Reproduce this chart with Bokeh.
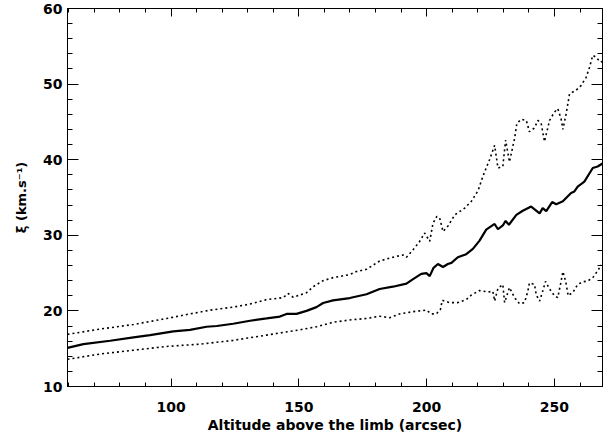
from bokeh.plotting import figure
from bokeh.models import LinearAxis, SingleIntervalTicker, Range1d, CustomLabelingPolicy
from bokeh.embed import file_html
from bokeh.resources import INLINE

# ---- data ----
mid_x = [59.5, 65.7, 76.2, 85.3, 91.8, 100.9, 107.4, 113.9, 117.9, 124.3, 130.9, 137.4,
         142.6, 145.2, 149.1, 153.0, 156.9, 159.5, 163.4, 169.9, 176.5, 181.6, 186.8,
         192.1, 194.7, 197.9, 199.9, 201.2, 202.7, 204.4, 206.4, 208.3, 209.7, 212.2,
         215.5, 218.1, 220.7, 223.3, 226.6, 227.9, 229.8, 230.9, 232.2, 235.1, 237.6,
         240.9, 244.2, 245.4, 246.8, 249.1, 250.7, 253.3, 256.5, 257.8, 259.1, 261.7,
         265.0, 266.9, 268.8]
mid_y = [15.1, 15.6, 16.05, 16.5, 16.8, 17.3, 17.5, 17.9, 18.0, 18.3, 18.7, 19.0,
         19.25, 19.6, 19.6, 20.0, 20.5, 21.05, 21.4, 21.7, 22.2, 22.9, 23.2,
         23.6, 24.2, 24.9, 25.0, 24.6, 25.7, 26.2, 25.8, 26.2, 26.35, 27.1,
         27.5, 28.2, 29.3, 30.75, 31.5, 30.8, 31.3, 31.9, 31.4, 32.7, 33.25,
         33.8, 32.9, 33.6, 33.2, 34.4, 34.1, 34.5, 35.6, 35.8, 36.45, 37.1,
         38.9, 39.1, 39.5]

up_x = [59.5, 72.3, 85.3, 98.3, 107.4, 115.3, 124.3, 130.9, 137.4, 143.9, 145.8, 147.8,
        153.0, 155.6, 159.5, 163.4, 169.9, 172.5, 176.5, 181.6, 186.8, 190.8, 192.1,
        194.7, 197.3, 199.2, 201.2, 202.5, 204.0, 205.1, 206.4, 208.3, 211.0, 214.9,
        217.5, 220.1, 222.0, 224.6, 226.6, 227.9, 229.8, 230.9, 232.4, 234.4, 235.3,
        237.0, 239.0, 240.2, 242.2, 243.5, 244.8, 246.1, 248.1, 250.0, 251.3, 252.6,
        253.3, 254.6, 255.9, 258.5, 260.4, 262.4, 263.7, 265.0, 266.3, 267.9, 268.8]
up_y = [16.9, 17.6, 18.2, 19.0, 19.6, 20.1, 20.5, 20.9, 21.5, 21.75, 22.3, 21.8,
        22.4, 23.2, 24.0, 24.4, 24.8, 25.2, 25.5, 26.6, 27.1, 27.4, 27.1,
        28.1, 29.2, 30.3, 29.2, 31.6, 32.5, 32.3, 30.5, 31.2, 32.7, 33.6,
        34.5, 35.9, 37.8, 40.0, 41.9, 38.9, 39.1, 42.6, 39.7, 42.8, 44.8,
        45.35, 45.2, 43.7, 44.2, 45.2, 44.8, 42.4, 45.2, 46.3, 46.75, 45.4,
        44.0, 46.1, 48.7, 49.2, 49.8, 50.9, 52.2, 53.8, 53.55, 52.9, 53.0]

lo_x = [59.5, 72.3, 85.3, 98.3, 111.3, 124.3, 137.4, 150.4, 156.9, 163.4, 169.9, 176.5,
        181.6, 185.5, 189.4, 194.7, 199.9, 201.8, 203.8, 205.4, 206.1, 209.0, 212.2,
        215.5, 217.5, 220.7, 224.0, 225.9, 226.6, 227.9, 229.8, 230.5, 232.4, 234.4,
        236.3, 238.3, 239.6, 240.2, 242.2, 242.9, 244.2, 245.4, 246.5, 248.1, 250.0,
        251.3, 252.6, 253.3, 254.4, 255.4, 257.3, 259.1, 261.1, 263.0, 265.0, 266.9,
        268.3]
lo_y = [13.6, 14.3, 14.8, 15.3, 15.6, 16.1, 16.8, 17.5, 17.9, 18.5, 18.8, 19.0,
        19.3, 19.1, 19.6, 19.9, 20.1, 19.6, 19.6, 20.2, 21.4, 21.1, 21.1,
        21.5, 22.1, 22.7, 22.5, 22.6, 21.3, 23.0, 23.5, 21.1, 23.1, 21.75,
        20.95, 21.1, 22.6, 23.7, 23.5, 22.1, 21.3, 22.6, 23.9, 22.9, 22.0,
        21.75, 23.9, 25.2, 23.9, 22.0, 22.5, 23.5, 23.85, 23.95, 24.4, 25.3,
        26.1]

x_major = 50
x_minor_n = 5
y_major = 10
y_minor_n = 5
x_lo, x_hi = 59.5, 268.8
y_lo, y_hi = 10, 60

FONT = "DejaVu Sans"

p = figure(width=614, height=437, output_backend="svg", toolbar_location=None,
           x_range=Range1d(x_lo, x_hi), y_range=Range1d(y_lo, y_hi),
           min_border_left=67, min_border_right=12, min_border_top=8, min_border_bottom=51,
           x_axis_location=None, y_axis_location=None)
p.grid.visible = False
p.outline_line_color = "black"
p.outline_line_width = 1
p.background_fill_color = "white"
p.border_fill_color = "white"

hide_all = CustomLabelingPolicy(code="""
    const all = [...indices]
    for (const i of all) indices.unset(i)
    return indices
""")


def style(ax, labels, major_len, minor_len):
    ax.axis_line_color = "black"
    ax.axis_line_width = 1
    ax.major_tick_line_color = "black"
    ax.minor_tick_line_color = "black"
    ax.major_tick_in = major_len
    ax.major_tick_out = 0
    ax.minor_tick_in = minor_len
    ax.minor_tick_out = 0
    if labels:
        ax.major_label_text_font = FONT
        ax.major_label_text_font_style = "bold"
        ax.major_label_text_font_size = "14px"
        ax.major_label_text_color = "black"
        ax.axis_label_text_font = FONT
        ax.axis_label_text_font_style = "bold"
        ax.axis_label_text_font_size = "14px"
        ax.axis_label_text_color = "black"
    else:
        ax.major_label_policy = hide_all
        ax.major_label_text_font_size = "1px"
        ax.major_label_standoff = 0
        ax.axis_label = None


xb = LinearAxis(ticker=SingleIntervalTicker(interval=x_major, num_minor_ticks=x_minor_n),
                axis_label="Altitude above the limb (arcsec)")
style(xb, True, 8, 4)
xb.major_label_standoff = 15
xb.axis_label_standoff = 2
p.add_layout(xb, "below")

xt = LinearAxis(ticker=SingleIntervalTicker(interval=x_major, num_minor_ticks=x_minor_n))
style(xt, False, 8, 4)
p.add_layout(xt, "above")

yl = LinearAxis(ticker=SingleIntervalTicker(interval=y_major, num_minor_ticks=y_minor_n),
                axis_label="ξ (km.s⁻¹)")
style(yl, True, 11, 5)
yl.major_label_standoff = 5
yl.axis_label_standoff = 11
yl.axis_label_text_font_size = "13px"
p.add_layout(yl, "left")

yr = LinearAxis(ticker=SingleIntervalTicker(interval=y_major, num_minor_ticks=y_minor_n))
style(yr, False, 11, 5)
p.add_layout(yr, "right")

p.line(up_x, up_y, line_color="black", line_width=1.6, line_dash="2 3")
p.line(lo_x, lo_y, line_color="black", line_width=1.6, line_dash="2 3")
p.line(mid_x, mid_y, line_color="black", line_width=2.2)

open("out.html", "w").write(file_html(p, INLINE))
